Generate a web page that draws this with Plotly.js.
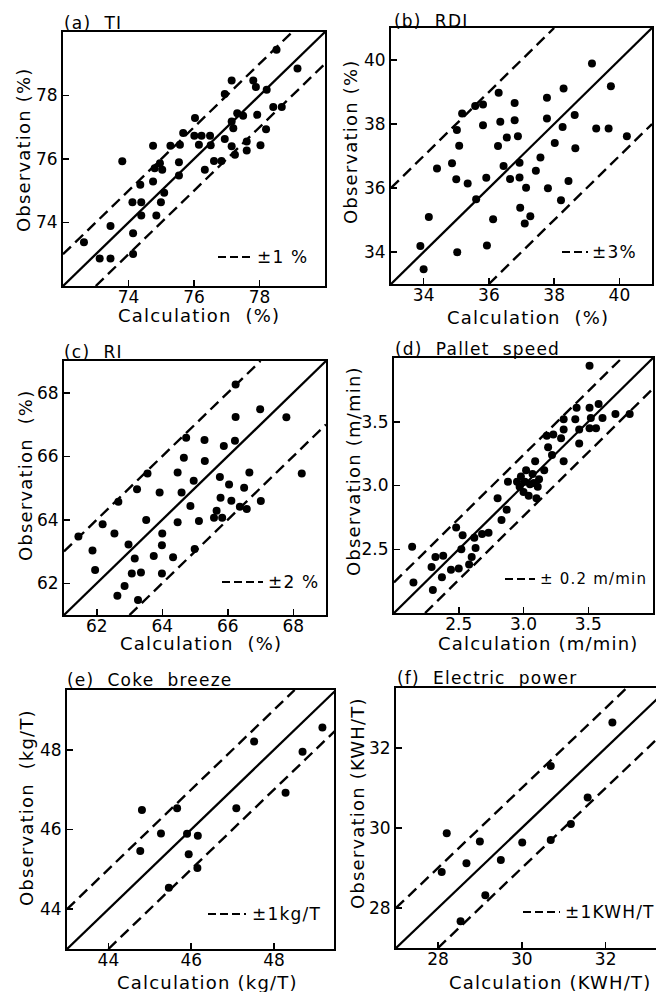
<!DOCTYPE html>
<html>
<head>
<meta charset="utf-8">
<script src="https://cdn.plot.ly/plotly-3.0.1.min.js"></script>
<style>
html,body{margin:0;padding:0;background:#fff;}
text.annotation-text{letter-spacing:1.2px;}
</style>
</head>
<body>
<div id="chart" style="width:656px;height:992px;"></div>
<script>
// ---------------- DATA ----------------
// (a) TI (%)
const tiCalc = [72.64,73.12,73.45,73.45,73.81,74.14,74.14,74.12,74.36,74.39,74.39,74.75,74.75,74.80,74.85,74.96,75.03,74.99,75.09,75.28,75.54,75.54,75.57,75.67,76.03,76.01,76.15,76.23,76.49,76.51,76.33,76.61,76.84,76.94,76.94,77.15,77.15,77.20,77.15,77.25,77.32,77.50,77.61,77.61,77.81,77.89,77.93,78.03,78.22,78.20,78.42,78.68,78.52,79.16];
const tiObs  = [73.38,72.87,72.87,73.89,75.93,73.01,73.66,74.64,75.19,74.64,74.22,76.42,75.29,75.71,74.22,75.87,75.66,74.64,74.94,76.42,75.48,75.90,76.45,76.82,77.29,76.73,76.45,76.73,76.73,76.43,75.66,75.94,75.94,78.05,76.63,78.47,77.18,76.97,76.40,76.13,77.44,77.36,76.55,76.27,78.47,78.27,77.39,76.43,78.18,76.94,77.64,77.64,79.44,78.85];
// (b) RDI (%)
const rdiCalc = [33.90,34.00,34.16,34.41,34.87,35.02,35.00,35.03,35.09,35.18,35.35,35.58,35.61,35.82,35.82,35.92,35.94,36.13,36.30,36.35,36.28,36.45,36.55,36.65,36.79,36.79,36.89,36.94,36.94,36.96,37.10,37.14,37.27,37.44,37.58,37.78,37.78,37.81,38.02,38.21,38.26,38.29,38.44,38.63,38.65,39.16,39.29,39.67,39.74,40.23];
const rdiObs  = [34.19,33.46,35.09,36.61,36.77,37.81,36.27,33.99,37.32,38.33,36.14,38.56,35.65,38.61,37.96,36.32,34.20,35.02,38.98,38.07,37.31,36.69,37.58,36.28,38.66,38.12,37.62,36.79,36.33,35.38,34.89,36.01,35.12,36.54,36.95,38.82,38.17,35.99,37.41,35.62,37.91,39.11,36.22,38.28,37.24,39.89,37.86,37.86,39.18,37.62];
// (c) RI (%)
const riCalc = [61.44,61.87,61.95,62.18,62.54,62.66,62.63,62.85,62.97,63.07,63.16,63.23,63.26,63.35,63.51,63.55,63.74,63.92,63.99,64.00,63.99,64.33,64.47,64.47,64.59,64.66,64.73,64.86,64.96,64.99,65.12,65.30,65.29,65.58,65.66,65.76,65.78,65.83,65.88,66.04,66.11,66.22,66.24,66.24,66.37,66.50,66.58,66.66,66.99,67.01,67.79,68.26];
const riObs  = [63.47,63.03,62.42,63.86,63.57,64.57,61.61,61.91,63.22,62.31,62.78,64.96,61.47,62.34,63.99,65.46,62.86,64.86,63.20,63.57,62.31,62.82,63.92,65.49,64.86,65.95,66.58,64.43,65.23,63.08,63.96,65.85,66.51,64.06,64.28,65.35,64.69,64.06,66.32,65.11,64.60,66.49,67.24,68.26,64.41,65.01,64.34,65.49,67.48,64.59,67.23,65.46];
// (d) Pallet speed (m/min)
const speedCalc = [2.14,2.15,2.29,2.30,2.32,2.37,2.38,2.44,2.48,2.50,2.52,2.53,2.58,2.60,2.62,2.63,2.68,2.73,2.80,2.83,2.87,2.88,2.95,2.97,2.98,3.00,3.01,3.02,3.04,3.05,3.07,3.08,3.09,3.10,3.11,3.12,3.16,3.18,3.19,3.22,3.23,3.29,3.31,3.31,3.31,3.41,3.40,3.43,3.43,3.51,3.51,3.52,3.51,3.56,3.58,3.61,3.71,3.82];
const speedObs  = [2.52,2.24,2.36,2.18,2.44,2.28,2.45,2.34,2.67,2.35,2.50,2.61,2.38,2.44,2.59,2.51,2.62,2.63,2.90,2.73,2.81,3.03,3.03,2.99,3.07,2.95,3.03,3.12,2.92,3.01,3.09,3.02,3.19,2.90,2.99,3.05,3.12,3.39,3.30,3.24,3.40,3.37,3.52,3.44,3.19,3.61,3.52,3.44,3.33,3.94,3.61,3.53,3.45,3.45,3.64,3.53,3.56,3.56];
// (e) Coke breeze (kg/T)
const cokeCalc = [44.77,44.81,45.27,45.46,45.66,45.90,45.94,46.15,46.16,47.09,47.52,48.28,48.69,49.17];
const cokeObs  = [45.46,46.49,45.90,44.54,46.53,45.89,45.38,45.03,45.84,46.53,48.21,46.92,47.95,48.56];
// (f) Electric power (KWH/T)
const powerCalc = [28.09,28.21,28.68,28.54,29.00,29.13,29.50,30.01,30.69,30.69,31.17,31.57,32.16];
const powerObs  = [28.90,29.87,29.12,27.67,29.66,28.32,29.20,29.64,29.70,31.55,30.10,30.76,32.64];

// band half-widths as drawn, and their legend labels
const bandWidths = [1, 3, 2, 0.24, 1, 1];
const bandLabels = ["±1 %", "±3%", "±2 %", "±\u00a00.2\u00a0m/min", "±1kg/T", "±1KWH/T"];
const panelTitles = ["(a)\u00a0\u00a0TI", "(b)\u00a0\u00a0RDI", "(c)\u00a0\u00a0RI", "(d)\u00a0\u00a0Pallet\u00a0\u00a0speed", "(e)\u00a0\u00a0Coke\u00a0\u00a0breeze", "(f)\u00a0\u00a0Electric\u00a0\u00a0power"];
const xTitles = ["Calculation\u00a0\u00a0(%)", "Calculation\u00a0\u00a0(%)", "Calculation\u00a0\u00a0(%)", "Calculation\u00a0(m/min)", "Calculation\u00a0(kg/T)", "Calculation\u00a0(KWH/T)"];
const yTitles = ["Observation\u00a0(%)", "Observation\u00a0(%)", "Observation\u00a0\u00a0(%)", "Observation\u00a0(m/min)", "Observation\u00a0\u00a0(kg/T)", "Observation\u00a0(KWH/T)"];
// axis ranges (square data range for y = x) and visible x range
const squareRanges = [[72,80],[33,41],[61,69],[2,4],[43,49.5],[27,33.5]];
const xVisible     = [[72,80],[33,41],[61,69],[2,4],[43,49.45],[27,33.2]];
const tickValues = [[74,76,78],[34,36,38,40],[62,64,66,68],[2.5,3.0,3.5],[44,46,48],[28,30,32]];
const tickLabels = [["74","76","78"],["34","36","38","40"],["62","64","66","68"],["2.5","3.0","3.5"],["44","46","48"],["28","30","32"]];

const seriesCalc = [tiCalc, rdiCalc, riCalc, speedCalc, cokeCalc, powerCalc];
const seriesObs  = [tiObs, rdiObs, riObs, speedObs, cokeObs, powerObs];

// ---------------- LAYOUT (pixels) ----------------
const W = 656, H = 992;
const boxes = [ // left, right, top, bottom
  [63, 325, 32, 286],
  [391, 652, 28, 284],
  [64, 326, 361, 615],
  [394, 653, 358, 613],
  [67, 334, 690, 949],
  [396, 656, 688, 948]
];
const titlePos = [[62,23],[392,21],[62,352],[393,349],[65,680],[395,678]];
const xTitlePos = [[199,315],[528,317],[201,643],[538,643],[207,982],[550,982]];
const yTitlePos = [[23,150],[350,142],[25,476],[353,471],[26,808],[357,803]];
const legendPos = [ // dash start, dash end, text left, y, font size
  [218,252,255,257,17],[562,588,590,252,17],[222,263,266,582,17],[505,535,538,579,15],[208,246,250,914,17],[523,560,563,912,17]
];

const px = v => v / W;
const py = v => 1 - v / H;

const FONT = "DejaVu Sans, Liberation Sans, Arial, sans-serif";
const traces = [];
const layout = {
  width: W, height: H,
  margin: {l:0, r:0, t:0, b:0},
  paper_bgcolor: "#fff", plot_bgcolor: "#fff",
  showlegend: false,
  font: {family: FONT, color: "#000", size: 18},
  annotations: [], shapes: []
};

for (let i = 0; i < 6; i++) {
  const sfx = i === 0 ? "" : String(i + 1);
  const xa = "x" + sfx, ya = "y" + sfx;
  const [l, r, t, b] = boxes[i];
  const [lo, hi] = squareRanges[i];
  const d = bandWidths[i];

  const common = {
    showline: true, linewidth: 2, linecolor: "#000",
    ticks: "inside", ticklen: 6, tickwidth: 1.5, tickcolor: "#000",
    showgrid: false, zeroline: false, fixedrange: true,
    tickfont: {family: FONT, size: 17, color: "#000"},
    tickvals: tickValues[i], ticktext: tickLabels[i]
  };
  layout["xaxis" + sfx] = Object.assign({}, common, {
    domain: [px(l), px(r)], range: xVisible[i], anchor: ya, mirror: true,
    ticklabelstandoff: -5
  });
  layout["yaxis" + sfx] = Object.assign({}, common, {
    domain: [py(b), py(t)], range: squareRanges[i], anchor: xa, mirror: i !== 5
  });

  // y = x line and tolerance band
  traces.push({x: [lo, hi], y: [lo, hi], mode: "lines", xaxis: xa, yaxis: ya,
    line: {color: "#000", width: 2.3}, hoverinfo: "skip"});
  traces.push({x: [lo, hi - d], y: [lo + d, hi], mode: "lines", xaxis: xa, yaxis: ya,
    line: {color: "#000", width: 2.4, dash: "11px,6px"}, hoverinfo: "skip"});
  traces.push({x: [lo + d, hi], y: [lo, hi - d], mode: "lines", xaxis: xa, yaxis: ya,
    line: {color: "#000", width: 2.4, dash: "11px,6px"}, hoverinfo: "skip"});
  // observations
  traces.push({x: seriesCalc[i], y: seriesObs[i], mode: "markers", xaxis: xa, yaxis: ya,
    marker: {size: 8, color: "#000"}});

  // titles
  layout.annotations.push({xref: "paper", yref: "paper", x: px(titlePos[i][0]), y: py(titlePos[i][1]),
    xanchor: "left", yanchor: "middle", text: panelTitles[i], showarrow: false,
    font: {family: FONT, size: 17, color: "#000"}});
  layout.annotations.push({xref: "paper", yref: "paper", x: px(xTitlePos[i][0]), y: py(xTitlePos[i][1]),
    xanchor: "center", yanchor: "middle", text: xTitles[i], showarrow: false,
    font: {family: FONT, size: 18, color: "#000"}});
  layout.annotations.push({xref: "paper", yref: "paper", x: px(yTitlePos[i][0]), y: py(yTitlePos[i][1]),
    xanchor: "center", yanchor: "middle", text: yTitles[i], textangle: -90, showarrow: false,
    font: {family: FONT, size: 18, color: "#000"}});
  // legend key
  const [d0, d1, tx, ty, fs] = legendPos[i];
  layout.shapes.push({type: "line", xref: "paper", yref: "paper",
    x0: px(d0), x1: px(d1), y0: py(ty), y1: py(ty),
    line: {color: "#000", width: 2.2, dash: "8px,4px"}});
  layout.annotations.push({xref: "paper", yref: "paper", x: px(tx), y: py(ty),
    xanchor: "left", yanchor: "middle", text: bandLabels[i], showarrow: false,
    font: {family: FONT, size: fs, color: "#000"}});
}

Plotly.newPlot("chart", traces, layout, {displayModeBar: false, staticPlot: true});
</script>
</body>
</html>
